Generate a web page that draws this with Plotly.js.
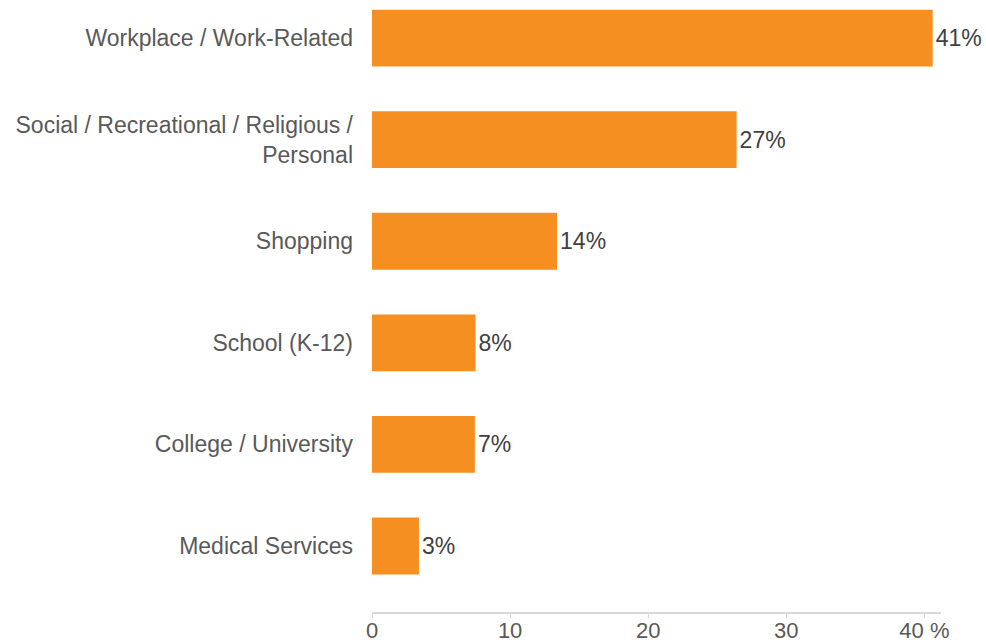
<!DOCTYPE html>
<html>
<head>
<meta charset="utf-8">
<script src="https://cdn.plot.ly/plotly-3.0.1.min.js"></script>
<style>html,body{margin:0;padding:0;background:#fff;}#chart{width:986px;height:642px;}</style>
</head>
<body>
<div id="chart"></div>
<script>
const categories = [
  "Workplace / Work-Related",
  "Social / Recreational / Religious /<br>Personal",
  "Shopping",
  "School (K-12)",
  "College / University",
  "Medical Services"
];
const values = [40.6, 26.4, 13.4, 7.5, 7.45, 3.4];
const valueLabels = ["41%", "27%", "14%", "8%", "7%", "3%"];
const tickVals = [0, 10, 20, 30, 40];
const tickText = ["0", "10", "20", "30", "40 %"];

const trace = {
  type: "bar",
  orientation: "h",
  y: categories,
  x: values,
  text: valueLabels,
  textposition: "outside",
  texttemplate: "%{text}",
  cliponaxis: false,
  textfont: {family: "Liberation Sans, Arial, sans-serif", size: 23, color: "#404040"},
  marker: {color: "#F58F22"},
  hoverinfo: "skip"
};

const layout = {
  width: 986, height: 642,
  margin: {l: 372, r: 45, t: 0, b: 30},
  paper_bgcolor: "#fff", plot_bgcolor: "#fff",
  showlegend: false,
  bargap: 0.44,
  font: {family: "Liberation Sans, Arial, sans-serif", color: "#595959"},
  xaxis: {
    range: [0, 41.2], autorange: false,
    tickvals: tickVals, ticktext: tickText,
    showgrid: false, zeroline: false,
    showline: true, linecolor: "#d9d9d9", linewidth: 2,
    ticks: "outside", ticklen: 4, tickcolor: "#d9d9d9", tickwidth: 1,
    ticklabelstandoff: -6,
    tickfont: {size: 22, color: "#595959"},
    fixedrange: true
  },
  yaxis: {
    type: "category",
    range: [5.65, -0.375], autorange: false,
    showgrid: false, zeroline: false, showline: false,
    ticks: "", ticklabelstandoff: 18,
    tickfont: {size: 23, color: "#595959"},
    fixedrange: true
  }
};

Plotly.newPlot("chart", [trace], layout, {displayModeBar: false, staticPlot: true});
</script>
</body>
</html>
